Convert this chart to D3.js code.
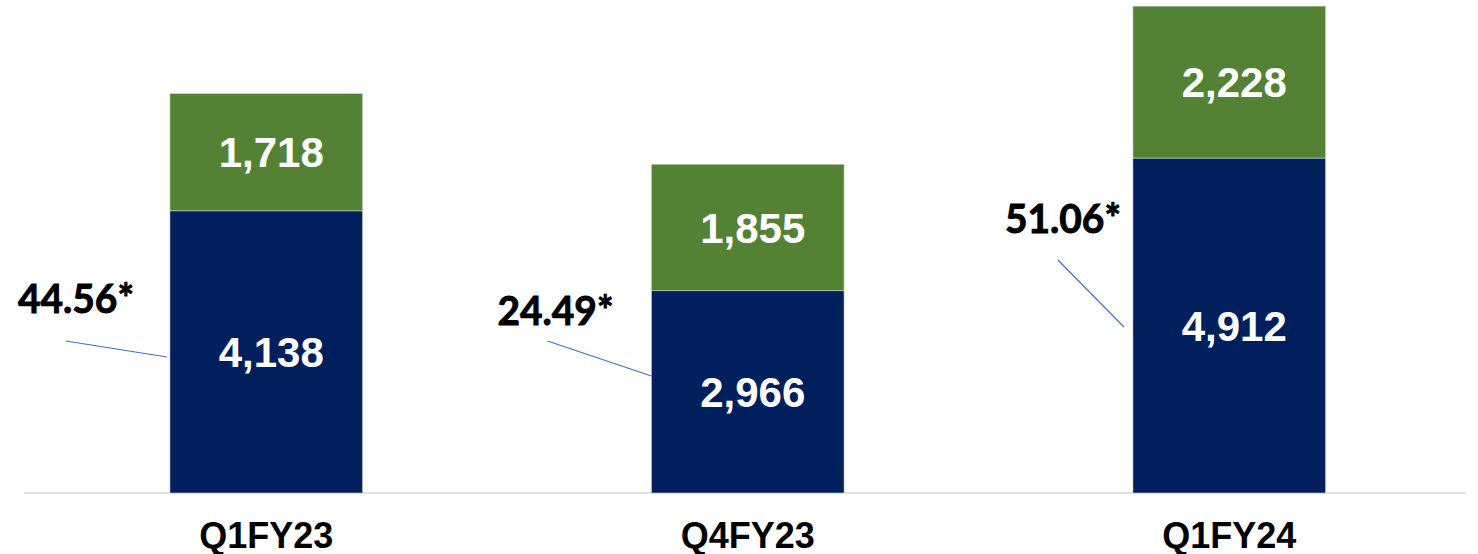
<!DOCTYPE html>
<html><head><meta charset="utf-8">
<script src="https://cdn.jsdelivr.net/npm/d3@7"></script>
<style>body{margin:0;background:#fff}svg{display:block}</style>
</head><body>
<svg id="c" width="1478" height="554"></svg>
<script>
const categories = ["Q1FY23", "Q4FY23", "Q1FY24"];
const bottomValues = [4138, 2966, 4912];
const topValues = [1718, 1855, 2228];
const annotations = ["44.56*", "24.49*", "51.06*"];
const bottomColor = "#001F5C";
const topColor = "#548235";

const svg = d3.select("#c");
const x = d3.scaleBand().domain(categories).range([25.5, 1470]).paddingInner(0.6).paddingOuter(0.3);
const y = d3.scaleLinear().domain([0, 7230]).range([493, 0]);

const fmt = d3.format(",");

// axis line
svg.append("line").attr("x1", 24).attr("x2", 1466).attr("y1", y(0)).attr("y2", y(0))
  .attr("stroke", "#d9d9d9").attr("stroke-width", 1.5);

const g = svg.append("g");
categories.forEach((c, i) => {
  const b = bottomValues[i], t = topValues[i];
  g.append("rect").attr("x", x(c)).attr("width", x.bandwidth())
    .attr("y", y(b)).attr("height", y(0) - y(b)).attr("fill", bottomColor)
    .attr("stroke", "#c9cfd8").attr("stroke-width", 0.6);
  g.append("rect").attr("x", x(c)).attr("width", x.bandwidth())
    .attr("y", y(b + t)).attr("height", y(b) - y(b + t)).attr("fill", topColor)
    .attr("stroke", "#c9d6bf").attr("stroke-width", 0.6);
  const cx = x(c) + x.bandwidth() / 2 + 5;
  g.append("text").attr("x", cx).attr("y", (y(0) + y(b)) / 2).attr("dy", "0.36em")
    .attr("text-anchor", "middle").attr("fill", "#fff")
    .style("font", "bold 42px 'Liberation Sans', Arial, sans-serif").text(fmt(b));
  g.append("text").attr("x", cx).attr("y", (y(b) + y(b + t)) / 2).attr("dy", "0.36em")
    .attr("text-anchor", "middle").attr("fill", "#fff")
    .style("font", "bold 42px 'Liberation Sans', Arial, sans-serif").text(fmt(t));
  // category labels
  g.append("text").attr("x", x(c) + x.bandwidth() / 2).attr("y", 548)
    .attr("text-anchor", "middle").attr("fill", "#000")
    .style("font", "bold 36px 'Liberation Sans', Arial, sans-serif").text(c);
});

// annotations with leader lines (relative to the bars)
const annOffsets = [
  {tx: -94, ty: 313, l1: [-104, 341], l2: [-3, 357]},
  {tx: -96, ty: 325, l1: [-104, 341], l2: [0, 376]},
  {tx: -70, ty: 233, l1: [-75, 260], l2: [-9, 327]}
];
categories.forEach((c, i) => {
  const o = annOffsets[i];
  const x0 = x(c);
  svg.append("line").attr("x1", x0 + o.l1[0]).attr("y1", o.l1[1])
    .attr("x2", x0 + o.l2[0]).attr("y2", o.l2[1])
    .attr("stroke", "#4472C4").attr("stroke-width", 1.2);
  svg.append("text").attr("x", x0 + o.tx).attr("y", o.ty)
    .attr("text-anchor", "middle").attr("fill", "#000")
    .attr("stroke", "#000").attr("stroke-width", 0.9)
    .attr("textLength", 116).attr("lengthAdjust", "spacingAndGlyphs")
    .style("font", "bold 40px Lato, 'Open Sans', sans-serif").text(annotations[i]);
});
</script>
</body></html>
